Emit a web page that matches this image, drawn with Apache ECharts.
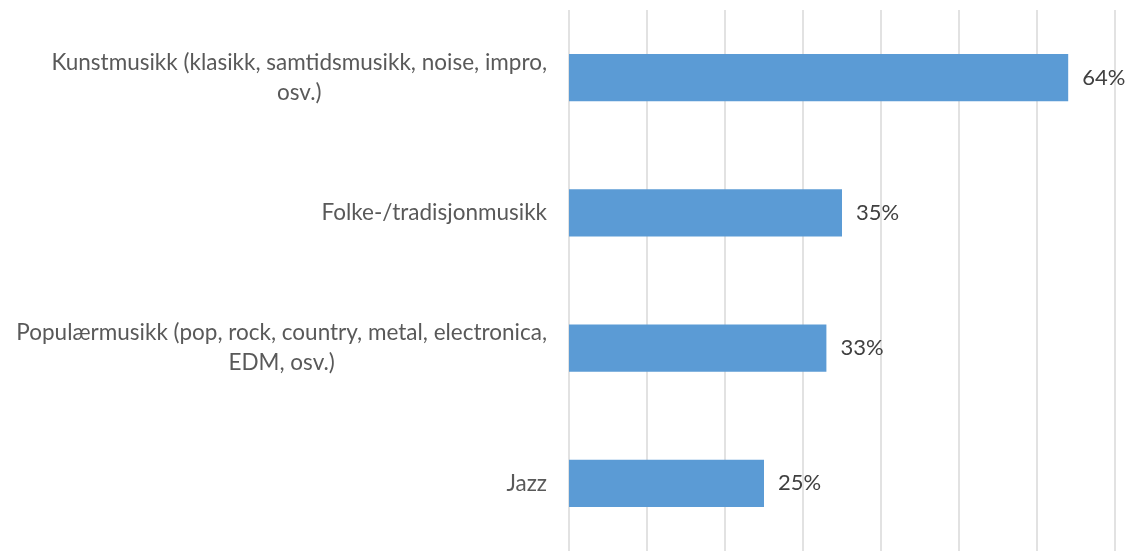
<!DOCTYPE html>
<html><head><meta charset="utf-8">
<script src="https://cdn.jsdelivr.net/npm/echarts@6/dist/echarts.min.js"></script>
<style>html,body{margin:0;padding:0;background:#fff}#c{width:1129px;height:551px}</style>
</head><body><div id="c"></div>
<script>
var categories = ["Kunstmusikk (klasikk, samtidsmusikk, noise, impro,\nosv.)", "Folke-/tradisjonmusikk", "Populærmusikk (pop, rock, country, metal, electronica,\nEDM, osv.)", "Jazz"];
var values = [64, 35, 33, 25];
var axisMax = 70;
var axisStep = 10;

var FONT = 'Lato';
var chart = echarts.init(document.getElementById('c'));
chart.setOption({
  animation: false,
  grid: {left: 569, right: 14, top: 10, bottom: -5, containLabel: false},
  xAxis: {type: 'value', min: 0, max: axisMax, interval: axisStep,
    axisLabel: {show: false}, axisLine: {show: false}, axisTick: {show: false},
    splitLine: {lineStyle: {color: '#d9d9d9', width: 1.5}}},
  yAxis: {type: 'category', data: categories, inverse: true,
    axisLine: {show: false}, axisTick: {show: false},
    axisLabel: {align: 'right', margin: 22,
      formatter: function (v) {
        return v.split('\n').map(function (s) { return '{a|' + s + '}'; }).join('\n');
      },
      rich: {a: {color: '#595959', fontFamily: FONT, fontSize: 22.5, lineHeight: 30, align: 'center'}}}},
  series: [{type: 'bar', data: values, barWidth: '35%',
    itemStyle: {color: '#5b9bd5'},
    label: {show: true, position: 'right', distance: 14, formatter: '{c}%', color: '#404040', fontFamily: FONT, fontSize: 22}}]
});
</script></body></html>
